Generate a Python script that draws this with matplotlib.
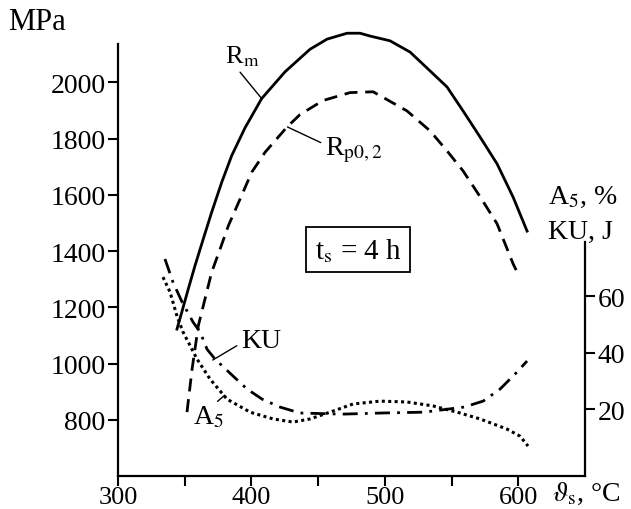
import matplotlib.pyplot as plt

plt.rcParams['font.family'] = ['Liberation Serif', 'DejaVu Serif']
plt.rcParams['mathtext.fontset'] = 'stix'

# Tensile strength R_m (MPa) vs tempering temperature
temp_rm = [344.2, 347.8, 352.7, 357.7, 363.9, 370.2, 377.7, 385.2, 395.2, 407.7, 425.2, 443.9,
           456.7, 471.7, 481.4, 488.9, 503.9, 518.9, 533.9, 546.6, 558.6, 571.4, 584.1, 596.1,
           606.6]
rm = [1123, 1183, 1266, 1348, 1443, 1538, 1644, 1739, 1838, 1942, 2037, 2117,
      2153, 2174, 2174, 2164, 2147, 2107, 2040, 1983, 1898, 1805, 1710, 1592,
      1471]

# Yield strength R_p0,2 (MPa)
temp_rp = [351.7, 355.5, 360.2, 365.2, 370.2, 376.5, 382.7, 391.5, 400.2, 410.2, 426.7, 436.4,
           453.7, 473.9, 491.2, 516.6, 533.9, 546.6, 558.6, 571.4, 584.1, 596.1, 599.8]
rp = [828, 980, 1135, 1230, 1325, 1407, 1490, 1585, 1680, 1751, 1841, 1885,
      1935, 1963, 1966, 1898, 1827, 1756, 1685, 1593, 1497, 1355, 1319]

# Impact energy KU (J), right axis
temp_ku = [335.2, 341.2, 348, 356.2, 361.5, 366.7, 372.7, 385.5, 396.7, 408, 421.4, 436.4,
           468, 497.9, 529.4, 559.4, 573.6, 586.4, 597.6, 606.6]
ku = [73.1, 64.9, 57.9, 50.8, 47.3, 41.2, 37.7, 32.0, 27.1, 23.5, 20.7, 18.6,
      18.2, 18.6, 18.9, 20.7, 22.8, 27.1, 32.4, 37]

# Elongation A5 (%), right axis
temp_a5 = [333.7, 339, 344.2, 348.7, 359.2, 369, 381.7, 399, 416.2, 431.2, 443.9, 458.9,
           476.2, 496.4, 516.6, 536.1, 554.1, 571.4, 591.6, 601.3, 607.3]
a5 = [66.7, 61.4, 52.9, 47.3, 37.7, 30.6, 23.5, 18.9, 16.5, 15.4, 16.5, 18.9,
      21.8, 22.8, 22.5, 21.1, 18.9, 16.5, 12.9, 10.4, 6.9]

mpa_ticks = [800, 1000, 1200, 1400, 1600, 1800, 2000]
right_ticks = [20, 40, 60]
temp_ticks = [300, 400, 500, 600]
temp_minor = [350, 450, 550]

W, H = 631, 510
fig = plt.figure(figsize=(W / 100, H / 100), dpi=100)
ax = fig.add_axes([118 / W, 1 - 477.3 / H, (585 - 118) / W, (477.3 - 26.9) / H])
ax2 = ax.twinx()

ax.plot(temp_rm, rm, color='black', lw=2.0, solid_joinstyle='round')
ax.plot(temp_rp, rp, color='black', lw=2.0, dashes=(4.7, 2.8))
ax2.plot(temp_ku, ku, color='black', lw=2.0, dashes=(5.4, 2.6, 1, 2.6))
ax2.plot(temp_a5, a5, color='black', lw=2.2, dashes=(1, 1.1))

ax.set_xlim(300, 650)
ax.set_ylim(600, 2200)
ax2.set_ylim(-3.8, 155.6)

for a in (ax, ax2):
    a.spines['top'].set_visible(False)
    for s in a.spines.values():
        s.set_linewidth(1.6)
ax.spines['right'].set_visible(False)
ax2.spines['left'].set_visible(False)
ax2.spines['bottom'].set_visible(False)
ax.spines['left'].set_bounds(600, 2136)
ax2.spines['right'].set_bounds(-3.8, 79)

ax.set_yticks(mpa_ticks)
ax.set_xticks(temp_ticks)
ax.set_xticks(temp_minor, minor=True)
ax2.set_yticks(right_ticks)
ax.tick_params(axis='both', which='both', direction='out', length=7, width=1.5,
               labelsize=20, pad=2)
ax.tick_params(axis='x', labelsize=19, pad=0)
ax2.tick_params(axis='y', direction='out', length=7, width=1.5, labelsize=20, pad=2)

ax.annotate(r'R$_\mathrm{m}$', xy=(408, 1940), xytext=(393, 2093), ha='center', va='center',
            fontsize=19,
            arrowprops=dict(arrowstyle='-', lw=1, relpos=(0.35, 0), shrinkA=1, shrinkB=0))
ax.annotate(r'R$_\mathrm{p0,2}$', xy=(427, 1841), xytext=(455, 1763), ha='left', va='center',
            fontsize=20,
            arrowprops=dict(arrowstyle='-', lw=1, relpos=(0, 0.65), shrinkA=1, shrinkB=0))
ax.annotate('KU', xy=(371, 1013), xytext=(392, 1081), ha='left', va='center', fontsize=20,
            arrowprops=dict(arrowstyle='-', lw=1, relpos=(0, 0.4), shrinkA=1, shrinkB=0))
ax.annotate(r'A$_\mathrm{5}$', xy=(380, 888), xytext=(356, 811), ha='left', va='center',
            fontsize=20,
            arrowprops=dict(arrowstyle='-', lw=1, relpos=(0.5, 0.8), shrinkA=0, shrinkB=0))
ax.text(480, 1405, r't$_\mathrm{s}$ = 4 h', ha='center', va='center', fontsize=21,
        bbox=dict(boxstyle='square,pad=0.3', fc='white', ec='black', lw=1.3))

fig.text(8 / W, 1 - 22 / H, 'MPa', fontsize=22, ha='left', va='center')
fig.text(548 / W, 1 - 197 / H, r'A$_\mathrm{5}$, %', fontsize=20, ha='left', va='center')
fig.text(548 / W, 1 - 232 / H, 'KU, J', fontsize=20, ha='left', va='center')
fig.text(552 / W, 1 - 494 / H, r'$\vartheta_\mathrm{s}$, °C', fontsize=20, ha='left', va='center')

fig.savefig('out.png', dpi=100)
